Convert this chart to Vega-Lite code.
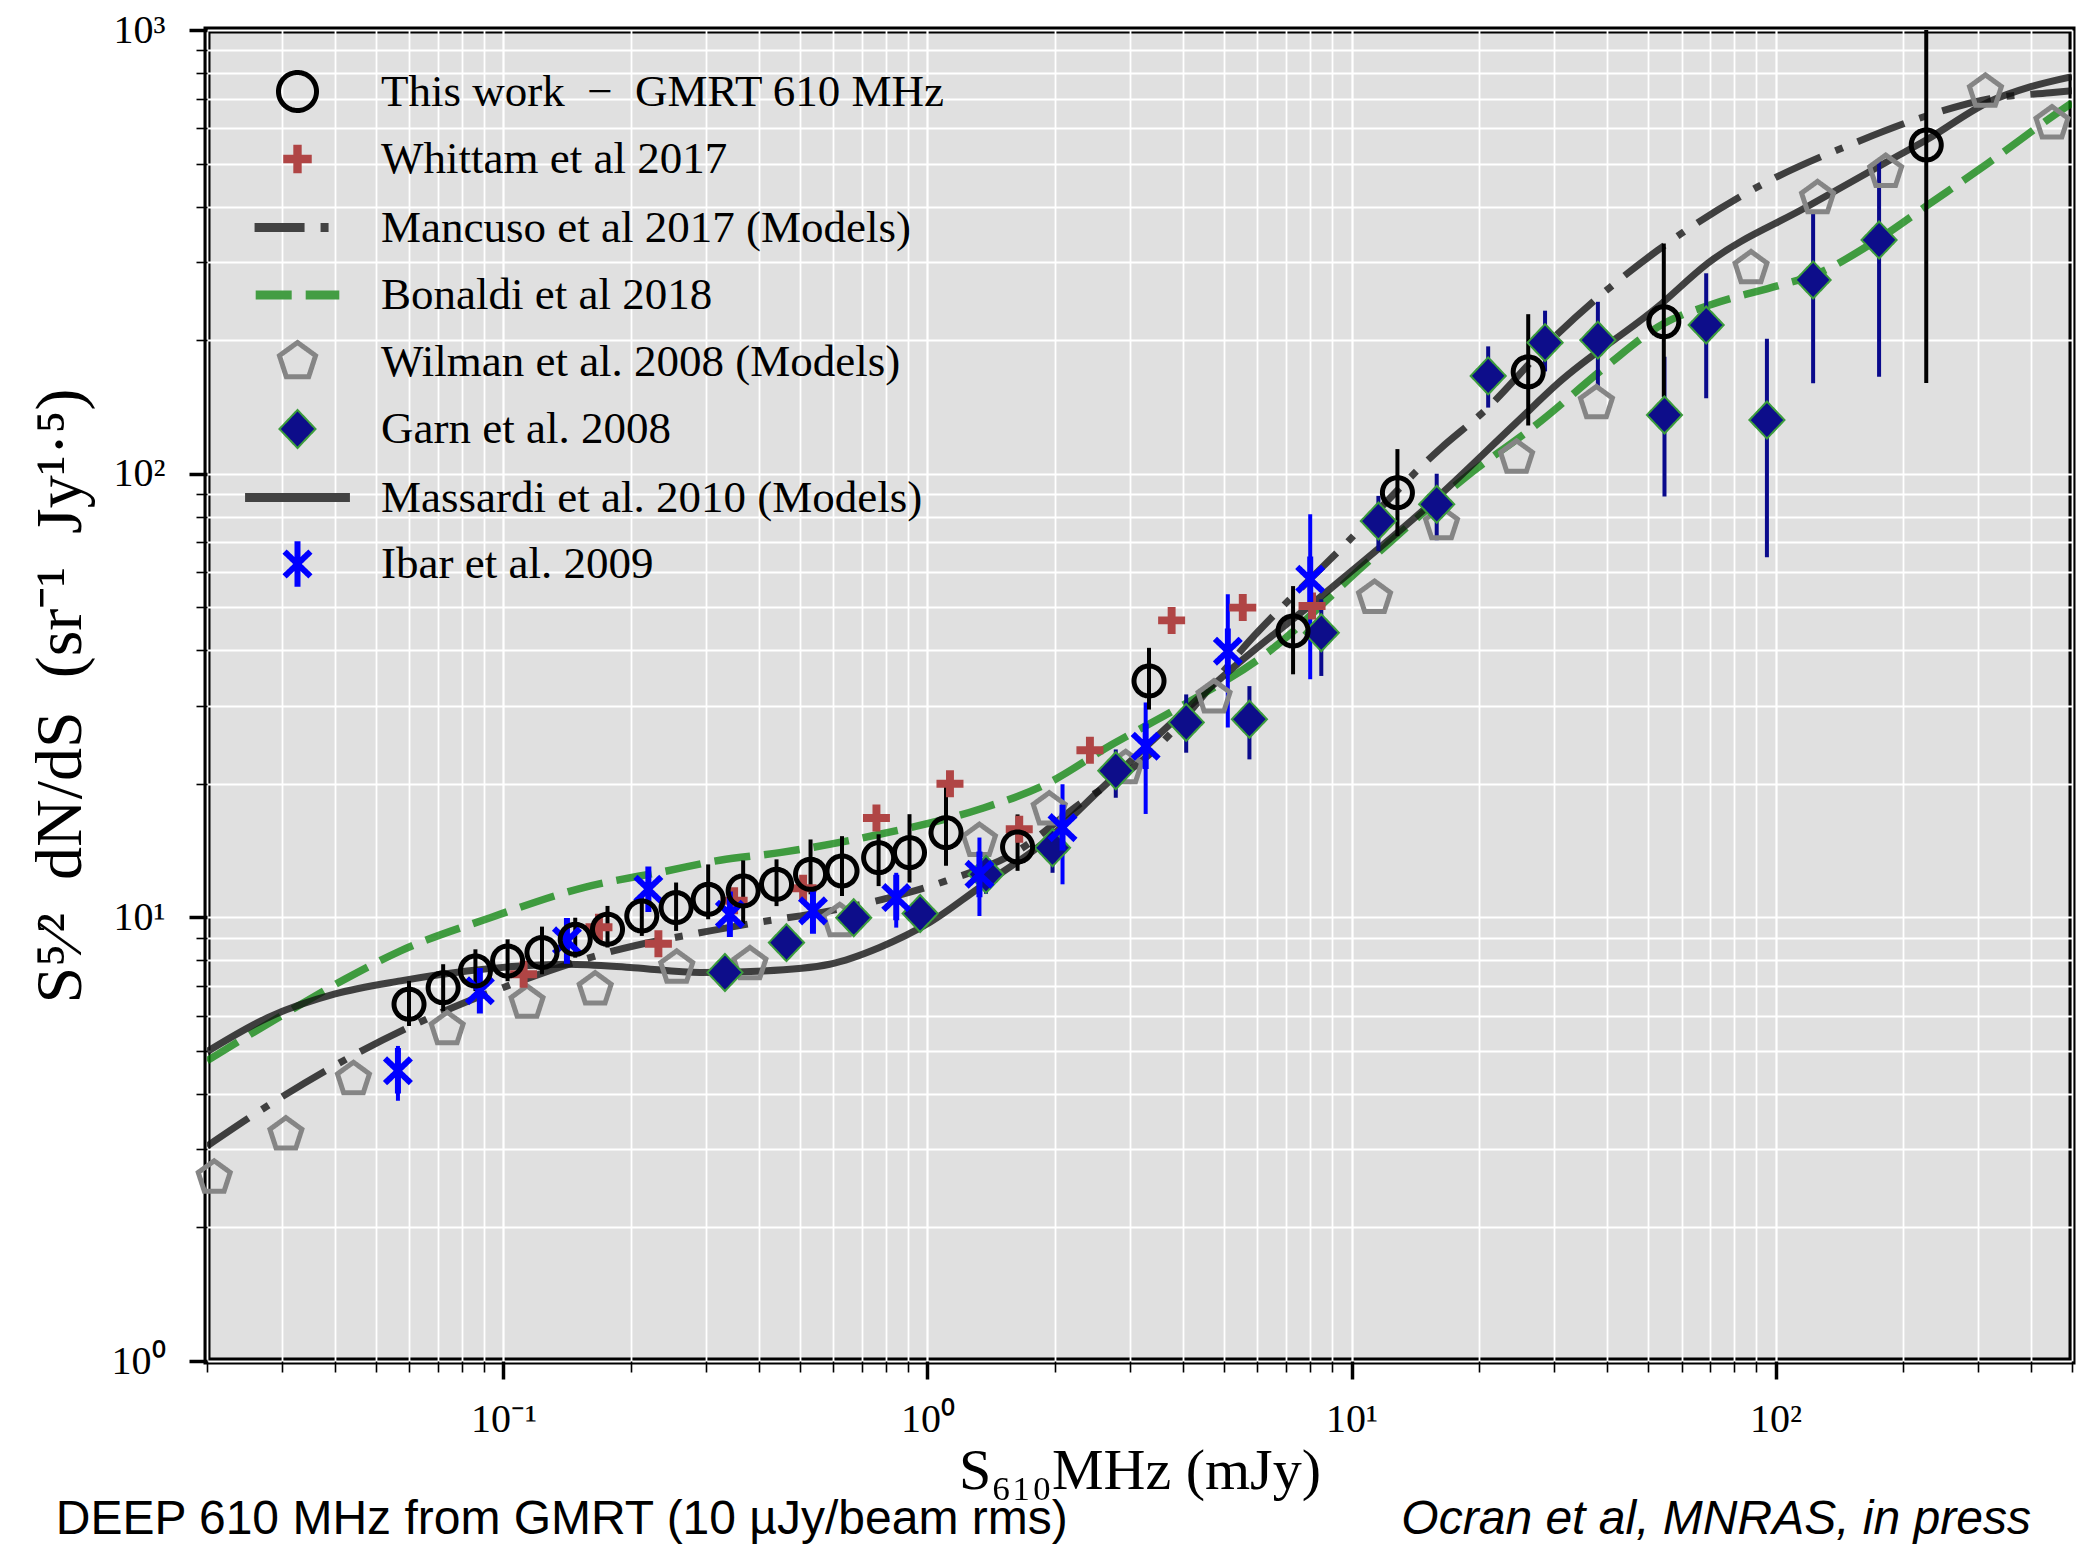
{
  "$schema": "https://vega.github.io/schema/vega-lite/v6.json",
  "width": 1865,
  "height": 1331,
  "autosize": {"type": "none"},
  "padding": {"left": 207, "top": 30, "right": 5, "bottom": 184},
  "background": "white",
  "config": {
    "view": {"fill": "#e0e0e0", "stroke": "black", "strokeWidth": 7},
    "legend": {"symbolFillColor": "transparent", "symbolStrokeColor": "transparent", "symbolOpacity": 1, "labelLimit": 2000}
  },
  "datasets": {
    "pts": [
      {"s": "This work\u00a0\u00a0−\u00a0\u00a0GMRT 610 MHz", "x": 0.0599, "y": 6.37, "lo": 5.69, "hi": 7.19},
      {"s": "This work\u00a0\u00a0−\u00a0\u00a0GMRT 610 MHz", "x": 0.0721, "y": 6.94, "lo": 6.15, "hi": 7.84},
      {"s": "This work\u00a0\u00a0−\u00a0\u00a0GMRT 610 MHz", "x": 0.0859, "y": 7.57, "lo": 6.82, "hi": 8.47},
      {"s": "This work\u00a0\u00a0−\u00a0\u00a0GMRT 610 MHz", "x": 0.1023, "y": 7.97, "lo": 7.18, "hi": 8.92},
      {"s": "This work\u00a0\u00a0−\u00a0\u00a0GMRT 610 MHz", "x": 0.1233, "y": 8.33, "lo": 7.44, "hi": 9.53},
      {"s": "This work\u00a0\u00a0−\u00a0\u00a0GMRT 610 MHz", "x": 0.1477, "y": 8.92, "lo": 8.11, "hi": 9.98},
      {"s": "This work\u00a0\u00a0−\u00a0\u00a0GMRT 610 MHz", "x": 0.176, "y": 9.4, "lo": 8.55, "hi": 10.61},
      {"s": "This work\u00a0\u00a0−\u00a0\u00a0GMRT 610 MHz", "x": 0.212, "y": 10.07, "lo": 9.08, "hi": 11.17},
      {"s": "This work\u00a0\u00a0−\u00a0\u00a0GMRT 610 MHz", "x": 0.2554, "y": 10.52, "lo": 9.32, "hi": 11.98},
      {"s": "This work\u00a0\u00a0−\u00a0\u00a0GMRT 610 MHz", "x": 0.304, "y": 10.98, "lo": 9.9, "hi": 13.16},
      {"s": "This work\u00a0\u00a0−\u00a0\u00a0GMRT 610 MHz", "x": 0.3676, "y": 11.47, "lo": 9.66, "hi": 13.44},
      {"s": "This work\u00a0\u00a0−\u00a0\u00a0GMRT 610 MHz", "x": 0.4406, "y": 11.87, "lo": 10.6, "hi": 13.51},
      {"s": "This work\u00a0\u00a0−\u00a0\u00a0GMRT 610 MHz", "x": 0.53, "y": 12.5, "lo": 11.27, "hi": 14.98},
      {"s": "This work\u00a0\u00a0−\u00a0\u00a0GMRT 610 MHz", "x": 0.6288, "y": 12.72, "lo": 11.17, "hi": 15.24},
      {"s": "This work\u00a0\u00a0−\u00a0\u00a0GMRT 610 MHz", "x": 0.767, "y": 13.63, "lo": 11.76, "hi": 15.39},
      {"s": "This work\u00a0\u00a0−\u00a0\u00a0GMRT 610 MHz", "x": 0.907, "y": 13.99, "lo": 11.98, "hi": 17.08},
      {"s": "This work\u00a0\u00a0−\u00a0\u00a0GMRT 610 MHz", "x": 1.106, "y": 15.52, "lo": 13.07, "hi": 19.8},
      {"s": "This work\u00a0\u00a0−\u00a0\u00a0GMRT 610 MHz", "x": 1.631, "y": 14.41, "lo": 12.73, "hi": 17.06},
      {"s": "This work\u00a0\u00a0−\u00a0\u00a0GMRT 610 MHz", "x": 3.33, "y": 34.1, "lo": 29.4, "hi": 40.5},
      {"s": "This work\u00a0\u00a0−\u00a0\u00a0GMRT 610 MHz", "x": 7.28, "y": 44.2, "lo": 35.3, "hi": 55.8},
      {"s": "This work\u00a0\u00a0−\u00a0\u00a0GMRT 610 MHz", "x": 12.83, "y": 90.6, "lo": 72.3, "hi": 113.6},
      {"s": "This work\u00a0\u00a0−\u00a0\u00a0GMRT 610 MHz", "x": 26.1, "y": 169.6, "lo": 128.4, "hi": 228.8},
      {"s": "This work\u00a0\u00a0−\u00a0\u00a0GMRT 610 MHz", "x": 54.5, "y": 220, "lo": 149, "hi": 330},
      {"s": "This work\u00a0\u00a0−\u00a0\u00a0GMRT 610 MHz", "x": 226.6, "y": 550.6, "lo": 160, "hi": 1500},
      {"s": "Whittam et al 2017", "x": 0.1116, "y": 7.44},
      {"s": "Whittam et al 2017", "x": 0.168, "y": 9.5},
      {"s": "Whittam et al 2017", "x": 0.232, "y": 8.72},
      {"s": "Whittam et al 2017", "x": 0.35, "y": 10.9},
      {"s": "Whittam et al 2017", "x": 0.509, "y": 11.63},
      {"s": "Whittam et al 2017", "x": 0.758, "y": 16.75},
      {"s": "Whittam et al 2017", "x": 1.13, "y": 20.0},
      {"s": "Whittam et al 2017", "x": 1.646, "y": 15.8},
      {"s": "Whittam et al 2017", "x": 2.416, "y": 23.8},
      {"s": "Whittam et al 2017", "x": 3.765, "y": 46.7},
      {"s": "Whittam et al 2017", "x": 5.54, "y": 49.9},
      {"s": "Whittam et al 2017", "x": 8.07, "y": 50.3},
      {"s": "Wilman et al. 2008 (Models)", "x": 0.0208, "y": 2.59},
      {"s": "Wilman et al. 2008 (Models)", "x": 0.0307, "y": 3.24},
      {"s": "Wilman et al. 2008 (Models)", "x": 0.0443, "y": 4.32},
      {"s": "Wilman et al. 2008 (Models)", "x": 0.0737, "y": 5.6},
      {"s": "Wilman et al. 2008 (Models)", "x": 0.1137, "y": 6.42},
      {"s": "Wilman et al. 2008 (Models)", "x": 0.1646, "y": 6.88},
      {"s": "Wilman et al. 2008 (Models)", "x": 0.2563, "y": 7.7},
      {"s": "Wilman et al. 2008 (Models)", "x": 0.3814, "y": 7.84},
      {"s": "Wilman et al. 2008 (Models)", "x": 0.621, "y": 9.81},
      {"s": "Wilman et al. 2008 (Models)", "x": 1.326, "y": 14.87},
      {"s": "Wilman et al. 2008 (Models)", "x": 1.937, "y": 17.5},
      {"s": "Wilman et al. 2008 (Models)", "x": 2.934, "y": 21.7},
      {"s": "Wilman et al. 2008 (Models)", "x": 4.74, "y": 31.3},
      {"s": "Wilman et al. 2008 (Models)", "x": 11.33, "y": 52.5},
      {"s": "Wilman et al. 2008 (Models)", "x": 16.3, "y": 76.9},
      {"s": "Wilman et al. 2008 (Models)", "x": 24.5, "y": 108.7},
      {"s": "Wilman et al. 2008 (Models)", "x": 37.8, "y": 144.1},
      {"s": "Wilman et al. 2008 (Models)", "x": 87.5, "y": 290.4},
      {"s": "Wilman et al. 2008 (Models)", "x": 125.6, "y": 417.7},
      {"s": "Wilman et al. 2008 (Models)", "x": 181.8, "y": 479},
      {"s": "Wilman et al. 2008 (Models)", "x": 312.5, "y": 726},
      {"s": "Wilman et al. 2008 (Models)", "x": 448.5, "y": 616},
      {"s": "Garn et al. 2008", "x": 0.333, "y": 7.51},
      {"s": "Garn et al. 2008", "x": 0.465, "y": 8.77},
      {"s": "Garn et al. 2008", "x": 0.67, "y": 9.98},
      {"s": "Garn et al. 2008", "x": 0.961, "y": 10.2},
      {"s": "Garn et al. 2008", "x": 1.374, "y": 12.5, "lo": 11.3, "hi": 13.6},
      {"s": "Garn et al. 2008", "x": 1.972, "y": 14.35, "lo": 12.6, "hi": 15.65},
      {"s": "Garn et al. 2008", "x": 2.78, "y": 21.4, "lo": 18.6, "hi": 23.9},
      {"s": "Garn et al. 2008", "x": 4.075, "y": 27.5, "lo": 23.5, "hi": 31.8},
      {"s": "Garn et al. 2008", "x": 5.744, "y": 27.96, "lo": 22.7, "hi": 33.2},
      {"s": "Garn et al. 2008", "x": 8.486, "y": 43.8, "lo": 35.0, "hi": 52.1},
      {"s": "Garn et al. 2008", "x": 11.57, "y": 78.2, "lo": 66.9, "hi": 89.1},
      {"s": "Garn et al. 2008", "x": 15.88, "y": 85.3, "lo": 70.8, "hi": 99.98},
      {"s": "Garn et al. 2008", "x": 21.0, "y": 166.1, "lo": 140.9, "hi": 193.6},
      {"s": "Garn et al. 2008", "x": 28.6, "y": 197.4, "lo": 170, "hi": 233},
      {"s": "Garn et al. 2008", "x": 38.1, "y": 200, "lo": 157.1, "hi": 244},
      {"s": "Garn et al. 2008", "x": 54.7, "y": 135.6, "lo": 88.8, "hi": 183.5},
      {"s": "Garn et al. 2008", "x": 68.6, "y": 216.3, "lo": 147.9, "hi": 282.9},
      {"s": "Garn et al. 2008", "x": 95.4, "y": 132.1, "lo": 64.8, "hi": 201.4},
      {"s": "Garn et al. 2008", "x": 122.6, "y": 273.3, "lo": 159.9, "hi": 389.5},
      {"s": "Garn et al. 2008", "x": 175.4, "y": 336.3, "lo": 165.4, "hi": 509.3},
      {"s": "Ibar et al. 2009", "x": 0.0564, "y": 4.51, "lo": 3.86, "hi": 5.13},
      {"s": "Ibar et al. 2009", "x": 0.088, "y": 6.83, "lo": 6.45, "hi": 7.25},
      {"s": "Ibar et al. 2009", "x": 0.1412, "y": 8.85, "lo": 8.4, "hi": 9.3},
      {"s": "Ibar et al. 2009", "x": 0.2197, "y": 11.57, "lo": 10.95, "hi": 12.25},
      {"s": "Ibar et al. 2009", "x": 0.342, "y": 10.16, "lo": 9.6, "hi": 10.8},
      {"s": "Ibar et al. 2009", "x": 0.537, "y": 10.34, "lo": 9.75, "hi": 11.0},
      {"s": "Ibar et al. 2009", "x": 0.844, "y": 11.08, "lo": 9.48, "hi": 12.6},
      {"s": "Ibar et al. 2009", "x": 1.326, "y": 12.5, "lo": 10.07, "hi": 15.13},
      {"s": "Ibar et al. 2009", "x": 2.082, "y": 15.93, "lo": 11.87, "hi": 19.95},
      {"s": "Ibar et al. 2009", "x": 3.27, "y": 24.3, "lo": 17.1, "hi": 30.5},
      {"s": "Ibar et al. 2009", "x": 5.108, "y": 39.8, "lo": 26.8, "hi": 53.5},
      {"s": "Ibar et al. 2009", "x": 7.99, "y": 57.8, "lo": 34.4, "hi": 81}
    ],
    "mod": [
      {"s": "Mancuso", "x": 0.02, "y": 3.05}, {"s": "Mancuso", "x": 0.0278, "y": 3.76}, {"s": "Mancuso", "x": 0.0433, "y": 4.83},
      {"s": "Mancuso", "x": 0.0686, "y": 6.0}, {"s": "Mancuso", "x": 0.1, "y": 6.95}, {"s": "Mancuso", "x": 0.1818, "y": 8.4},
      {"s": "Mancuso", "x": 0.307, "y": 9.32}, {"s": "Mancuso", "x": 0.395, "y": 9.73}, {"s": "Mancuso", "x": 0.588, "y": 10.34},
      {"s": "Mancuso", "x": 0.814, "y": 11.08}, {"s": "Mancuso", "x": 1.106, "y": 12.08}, {"s": "Mancuso", "x": 1.587, "y": 13.88},
      {"s": "Mancuso", "x": 2.279, "y": 17.98}, {"s": "Mancuso", "x": 3.27, "y": 22.9}, {"s": "Mancuso", "x": 6.04, "y": 44.2},
      {"s": "Mancuso", "x": 9.49, "y": 68.1}, {"s": "Mancuso", "x": 16.3, "y": 114.5}, {"s": "Mancuso", "x": 20.5, "y": 138},
      {"s": "Mancuso", "x": 30.7, "y": 207}, {"s": "Mancuso", "x": 52.8, "y": 319}, {"s": "Mancuso", "x": 90.7, "y": 443},
      {"s": "Mancuso", "x": 155.9, "y": 560}, {"s": "Mancuso", "x": 226.6, "y": 640}, {"s": "Mancuso", "x": 320, "y": 700},
      {"s": "Mancuso", "x": 444, "y": 722}, {"s": "Mancuso", "x": 500, "y": 730},
      {"s": "Bonaldi", "x": 0.02, "y": 4.75}, {"s": "Bonaldi", "x": 0.0304, "y": 6.05}, {"s": "Bonaldi", "x": 0.0444, "y": 7.44},
      {"s": "Bonaldi", "x": 0.0572, "y": 8.4}, {"s": "Bonaldi", "x": 0.0931, "y": 9.98}, {"s": "Bonaldi", "x": 0.1545, "y": 11.67},
      {"s": "Bonaldi", "x": 0.2427, "y": 12.72}, {"s": "Bonaldi", "x": 0.324, "y": 13.45}, {"s": "Bonaldi", "x": 0.4485, "y": 13.99},
      {"s": "Bonaldi", "x": 0.771, "y": 15.39}, {"s": "Bonaldi", "x": 1.326, "y": 17.52}, {"s": "Bonaldi", "x": 1.902, "y": 19.95},
      {"s": "Bonaldi", "x": 2.729, "y": 24.55}, {"s": "Bonaldi", "x": 3.917, "y": 29.7}, {"s": "Bonaldi", "x": 6.27, "y": 39.2},
      {"s": "Bonaldi", "x": 10.77, "y": 62.5}, {"s": "Bonaldi", "x": 18.51, "y": 97.9}, {"s": "Bonaldi", "x": 28.0, "y": 131.5},
      {"s": "Bonaldi", "x": 40, "y": 175}, {"s": "Bonaldi", "x": 54.5, "y": 218}, {"s": "Bonaldi", "x": 70, "y": 240},
      {"s": "Bonaldi", "x": 101, "y": 265}, {"s": "Bonaldi", "x": 122.6, "y": 280}, {"s": "Bonaldi", "x": 175, "y": 338},
      {"s": "Bonaldi", "x": 230, "y": 405}, {"s": "Bonaldi", "x": 316, "y": 500}, {"s": "Bonaldi", "x": 477.7, "y": 665},
      {"s": "Bonaldi", "x": 500, "y": 685},
      {"s": "Massardi", "x": 0.02, "y": 4.98}, {"s": "Massardi", "x": 0.0278, "y": 5.94}, {"s": "Massardi", "x": 0.0399, "y": 6.71},
      {"s": "Massardi", "x": 0.0572, "y": 7.19}, {"s": "Massardi", "x": 0.0821, "y": 7.57}, {"s": "Massardi", "x": 0.1413, "y": 7.84},
      {"s": "Massardi", "x": 0.2026, "y": 7.7}, {"s": "Massardi", "x": 0.2907, "y": 7.51}, {"s": "Massardi", "x": 0.41, "y": 7.57},
      {"s": "Massardi", "x": 0.588, "y": 7.84}, {"s": "Massardi", "x": 0.771, "y": 8.55}, {"s": "Massardi", "x": 1.011, "y": 9.73},
      {"s": "Massardi", "x": 1.326, "y": 11.67}, {"s": "Massardi", "x": 1.902, "y": 14.87}, {"s": "Massardi", "x": 2.54, "y": 19.3},
      {"s": "Massardi", "x": 5.04, "y": 35.3}, {"s": "Massardi", "x": 8.99, "y": 55.4}, {"s": "Massardi", "x": 15.45, "y": 86.0},
      {"s": "Massardi", "x": 24.4, "y": 130}, {"s": "Massardi", "x": 30.7, "y": 159.9}, {"s": "Massardi", "x": 52.8, "y": 237.9},
      {"s": "Massardi", "x": 69.2, "y": 298}, {"s": "Massardi", "x": 118.9, "y": 400}, {"s": "Massardi", "x": 186.8, "y": 510},
      {"s": "Massardi", "x": 226.6, "y": 565}, {"s": "Massardi", "x": 320, "y": 690}, {"s": "Massardi", "x": 400, "y": 745},
      {"s": "Massardi", "x": 500, "y": 785}
    ]
  },
  "layer": [
    {
      "data": {"name": "mod"},
      "transform": [{"filter": "datum.s == 'Mancuso'"}],
      "mark": {"type": "line", "stroke": "#111111", "opacity": 0.78, "strokeWidth": 7, "strokeDash": [50, 16, 8, 16], "interpolate": "monotone", "clip": true},
      "encoding": {
        "x": {"field": "x", "type": "quantitative", "scale": {"type": "log", "domain": [0.02, 500], "nice": false},
          "axis": {"orient": "bottom", "values": [0.02,0.03,0.04,0.05,0.06,0.07,0.08,0.09,0.2,0.3,0.4,0.5,0.6,0.7,0.8,0.9,2,3,4,5,6,7,8,9,20,30,40,50,60,70,80,90,200,300,400,500],
            "labels": false, "ticks": true, "tickSize": 11, "tickWidth": 1.6, "tickColor": "black", "domain": false,
            "grid": true, "gridColor": "white", "gridWidth": 1.8, "gridOpacity": 1, "title": null}},
        "y": {"field": "y", "type": "quantitative", "scale": {"type": "log", "domain": [1, 1000], "nice": false},
          "axis": {"orient": "left", "values": [2,3,4,5,6,7,8,9,20,30,40,50,60,70,80,90,200,300,400,500,600,700,800,900],
            "labels": false, "ticks": true, "tickSize": 11, "tickWidth": 1.6, "tickColor": "black", "domain": false,
            "grid": true, "gridColor": "white", "gridWidth": 1.8, "gridOpacity": 1, "title": null}}
      }
    },
    {
      "data": {"name": "mod"},
      "transform": [{"filter": "datum.s == 'Bonaldi'"}],
      "mark": {"type": "line", "stroke": "#008000", "opacity": 0.72, "strokeWidth": 7.5, "strokeDash": [36, 14], "interpolate": "monotone", "clip": true},
      "encoding": {
        "x": {"field": "x", "type": "quantitative", "scale": {"type": "log", "domain": [0.02, 500], "nice": false},
          "axis": {"orient": "bottom", "values": [0.1, 1, 10, 100],
            "labelExpr": "datum.value == 0.1 ? '10⁻¹' : datum.value == 1 ? '10⁰' : datum.value == 10 ? '10¹' : '10²'",
            "labelFont": "Liberation Serif", "labelFontSize": 40, "labelColor": "black", "labelPadding": 20, "labelFlush": false, "labelOverlap": false,
            "ticks": true, "tickSize": 18, "tickWidth": 3.5, "tickColor": "black", "domain": false,
            "grid": true, "gridColor": "white", "gridWidth": 2.2, "gridOpacity": 1,
            "title": "S₆₁₀MHz (mJy)", "titleFont": "Liberation Serif", "titleFontSize": 58, "titleFontWeight": "normal", "titleColor": "black",
            "titleX": 932.5, "titleY": 127, "titleAlign": "center", "titleBaseline": "alphabetic"}},
        "y": {"field": "y", "type": "quantitative", "scale": {"type": "log", "domain": [1, 1000], "nice": false},
          "axis": {"orient": "left", "values": [1, 10, 100, 1000],
            "labelExpr": "datum.value == 1 ? '10⁰' : datum.value == 10 ? '10¹' : datum.value == 100 ? '10²' : '10³'",
            "labelFont": "Liberation Serif", "labelFontSize": 40, "labelColor": "black", "labelPadding": 24, "labelOverlap": false, "labelFlush": false,
            "ticks": true, "tickSize": 18, "tickWidth": 3.5, "tickColor": "black", "domain": false,
            "grid": true, "gridColor": "white", "gridWidth": 2.2, "gridOpacity": 1,
            "title": "S⁵⁄²\u00a0\u00a0dN/dS\u00a0\u00a0(sr⁻¹\u00a0\u00a0Jy¹·⁵)", "titleFont": "Liberation Serif", "titleFontSize": 66, "titleFontWeight": "normal", "titleColor": "black",
            "titleX": -147, "titleY": 665.5, "titleAngle": -90, "titleAlign": "center", "titleBaseline": "middle"}}
      }
    },
    {
      "data": {"name": "mod"},
      "transform": [{"filter": "datum.s == 'Massardi'"}],
      "mark": {"type": "line", "stroke": "#111111", "opacity": 0.78, "strokeWidth": 7, "interpolate": "monotone", "clip": true},
      "encoding": {
        "x": {"field": "x", "type": "quantitative", "axis": null},
        "y": {"field": "y", "type": "quantitative", "axis": null}
      }
    },
    {
      "data": {"name": "pts"},
      "transform": [{"filter": "datum.s == 'Garn et al. 2008' && isValid(datum.lo)"}],
      "mark": {"type": "rule", "stroke": "#0a0a8c", "strokeWidth": 4, "clip": true},
      "encoding": {
        "x": {"field": "x", "type": "quantitative", "axis": null},
        "y": {"field": "lo", "type": "quantitative", "axis": null}, "y2": {"field": "hi"}}
    },
    {
      "data": {"name": "pts"},
      "transform": [{"filter": "datum.s == 'Ibar et al. 2009'"}],
      "mark": {"type": "rule", "stroke": "#0000ff", "strokeWidth": 4, "clip": true},
      "encoding": {
        "x": {"field": "x", "type": "quantitative", "axis": null},
        "y": {"field": "lo", "type": "quantitative", "axis": null}, "y2": {"field": "hi"}}
    },
    {
      "data": {"name": "pts"},
      "transform": [{"filter": "indexof(datum.s, 'This work') == 0"}],
      "mark": {"type": "rule", "stroke": "black", "strokeWidth": 4, "clip": true},
      "encoding": {
        "x": {"field": "x", "type": "quantitative", "axis": null},
        "y": {"field": "lo", "type": "quantitative", "axis": null}, "y2": {"field": "hi"}}
    },
    {
      "data": {"name": "pts"},
      "encoding": {
        "x": {"field": "x", "type": "quantitative", "axis": null},
        "y": {"field": "y", "type": "quantitative", "axis": null},
        "shape": {"field": "s", "type": "nominal", "title": null,
          "scale": {"domain": ["This work\u00a0\u00a0−\u00a0\u00a0GMRT 610 MHz", "Whittam et al 2017", "Mancuso et al 2017 (Models)", "Bonaldi et al 2018", "Wilman et al. 2008 (Models)", "Garn et al. 2008", "Massardi et al. 2010 (Models)", "Ibar et al. 2009"],
            "range": [
              "M-1,0A1,1,0,1,1,1,0A1,1,0,1,1,-1,0Z",
              "M-0.75,-0.22H-0.22V-0.75H0.22V-0.22H0.75V0.22H0.22V0.75H-0.22V0.22H-0.75Z",
              "M-2.26,0H2.26",
              "M-2.2,0H2.2",
              "M0,-1L0.951,-0.309L0.588,0.809L-0.588,0.809L-0.951,-0.309Z",
              "M0,-1L0.95,0L0,1L-0.95,0Z",
              "M-2.76,0H2.76",
              "M-0.68,-0.65L0.68,0.65M-0.68,0.65L0.68,-0.65M0,-1.2V1.2"
            ]},
          "legend": {"orient": "none", "legendX": 67, "legendY": 39, "padding": 0, "direction": "vertical", "gridAlign": "all",
            "labelFont": "Liberation Serif", "labelFontSize": 45, "labelColor": "black", "labelLimit": 2000, "labelOffset": 60,
            "symbolSize": 1444, "rowPadding": -3.5}},
        "fill": {"field": "s", "type": "nominal", "title": null,
          "scale": {"domain": ["This work\u00a0\u00a0−\u00a0\u00a0GMRT 610 MHz", "Whittam et al 2017", "Mancuso et al 2017 (Models)", "Bonaldi et al 2018", "Wilman et al. 2008 (Models)", "Garn et al. 2008", "Massardi et al. 2010 (Models)", "Ibar et al. 2009"],
            "range": ["transparent", "#b04545", "transparent", "transparent", "transparent", "#0d0d8a", "transparent", "transparent"]}},
        "stroke": {"field": "s", "type": "nominal", "title": null,
          "scale": {"domain": ["This work\u00a0\u00a0−\u00a0\u00a0GMRT 610 MHz", "Whittam et al 2017", "Mancuso et al 2017 (Models)", "Bonaldi et al 2018", "Wilman et al. 2008 (Models)", "Garn et al. 2008", "Massardi et al. 2010 (Models)", "Ibar et al. 2009"],
            "range": ["#000000", "transparent", "#424242", "#439d43", "#858585", "#3c9c3c", "#424242", "#0000ff"]}},
        "strokeDash": {"field": "s", "type": "nominal", "title": null,
          "scale": {"domain": ["This work\u00a0\u00a0−\u00a0\u00a0GMRT 610 MHz", "Whittam et al 2017", "Mancuso et al 2017 (Models)", "Bonaldi et al 2018", "Wilman et al. 2008 (Models)", "Garn et al. 2008", "Massardi et al. 2010 (Models)", "Ibar et al. 2009"],
            "range": [[1, 0], [1, 0], [50, 16, 8, 16], [36, 14], [1, 0], [1, 0], [1, 0], [1, 0]]}},
        "strokeWidth": {"field": "s", "type": "nominal", "title": null,
          "scale": {"type": "ordinal", "domain": ["This work\u00a0\u00a0−\u00a0\u00a0GMRT 610 MHz", "Whittam et al 2017", "Mancuso et al 2017 (Models)", "Bonaldi et al 2018", "Wilman et al. 2008 (Models)", "Garn et al. 2008", "Massardi et al. 2010 (Models)", "Ibar et al. 2009"],
            "range": [5, 0, 9, 9, 5, 2, 9, 6]}}
      },
      "layer": [
        {"transform": [{"filter": "datum.s == 'Wilman et al. 2008 (Models)'"}], "mark": {"type": "point", "filled": true, "opacity": 1, "size": 1130}},
        {"transform": [{"filter": "datum.s == 'Garn et al. 2008'"}], "mark": {"type": "point", "filled": true, "opacity": 1, "size": 1369}},
        {"transform": [{"filter": "datum.s == 'Whittam et al 2017'"}], "mark": {"type": "point", "filled": true, "opacity": 1, "size": 1296}},
        {"transform": [{"filter": "datum.s == 'Ibar et al. 2009'"}], "mark": {"type": "point", "filled": true, "opacity": 1, "size": 1444}},
        {"transform": [{"filter": "indexof(datum.s, 'This work') == 0"}], "mark": {"type": "point", "filled": true, "opacity": 1, "size": 900}}
      ]
    },
    {
      "data": {"values": [{"note": "DEEP 610 MHz from GMRT (10 µJy/beam rms)"}]},
      "mark": {"type": "text", "align": "left", "baseline": "alphabetic", "font": "Liberation Sans", "fontSize": 48, "fill": "black"},
      "encoding": {"x": {"datum": 0.0088, "type": "quantitative", "axis": null}, "y": {"datum": 0.408, "type": "quantitative", "axis": null}, "text": {"field": "note"}}
    },
    {
      "data": {"values": [{"note": "Ocran et al, MNRAS, in press"}]},
      "mark": {"type": "text", "align": "right", "baseline": "alphabetic", "font": "Liberation Sans", "fontStyle": "italic", "fontSize": 48, "fill": "black"},
      "encoding": {"x": {"datum": 400, "type": "quantitative", "axis": null}, "y": {"datum": 0.408, "type": "quantitative", "axis": null}, "text": {"field": "note"}}
    }
  ],
  "resolve": {"axis": {"x": "independent", "y": "independent"}}
}
